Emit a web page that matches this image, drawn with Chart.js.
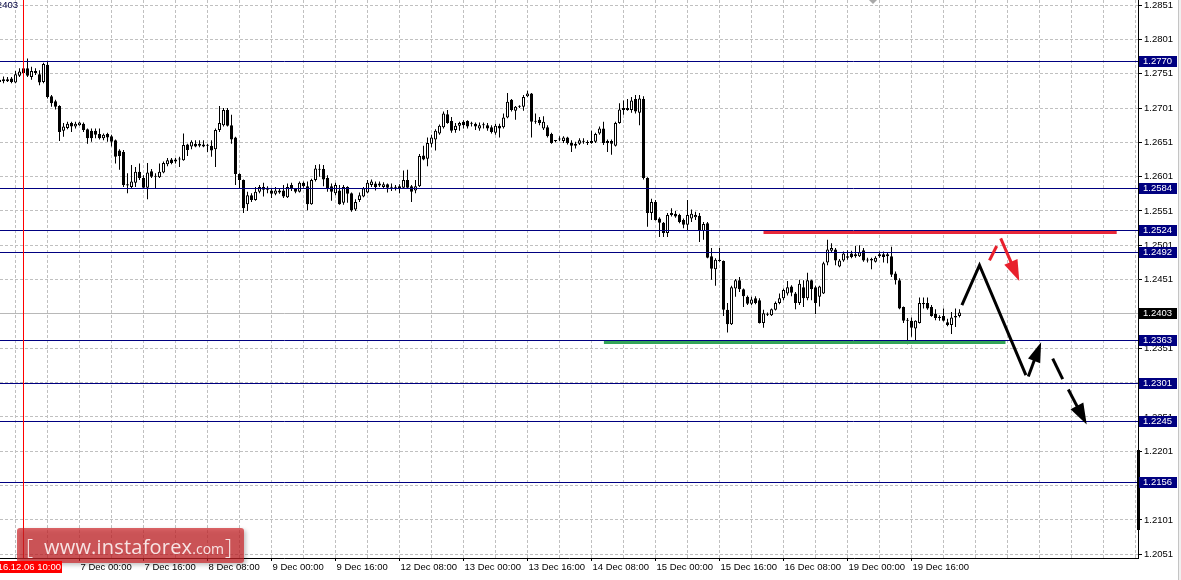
<!DOCTYPE html>
<html><head><meta charset="utf-8">
<script src="https://cdn.jsdelivr.net/npm/chart.js@4.4.0/dist/chart.umd.min.js"></script>
<style>html,body{margin:0;padding:0;background:#fff;overflow:hidden}canvas{display:block}</style>
</head><body>
<canvas id="c" width="1181" height="580"></canvas>
<script>
// Hourly bars; bar number 0 = 6 Dec 08:00, first visible bar is number FIRST_BAR
const FIRST_BAR = -4;
const opens = [
1.2739,1.2743,1.2740,1.2744,1.2738,1.2748,1.2752,1.2759,1.2746,1.2755,
1.2750,1.2739,1.2764,1.2718,1.2711,1.2704,1.2668,1.2672,1.2679,1.2674,
1.2676,1.2678,1.2670,1.2668,1.2668,1.2663,1.2657,1.2663,1.2660,1.2654,
1.2639,1.2637,1.2588,1.2586,1.2592,1.2608,1.2599,1.2585,1.2609,1.2601,
1.2600,1.2607,1.2619,1.2626,1.2626,1.2626,1.2625,1.2648,1.2645,1.2649,
1.2646,1.2648,1.2646,1.2646,1.2641,1.2669,1.2676,1.2698,1.2676,1.2658,
1.2605,1.2596,1.2561,1.2574,1.2567,1.2579,1.2586,1.2585,1.2581,1.2576,
1.2581,1.2581,1.2571,1.2589,1.2583,1.2579,1.2592,1.2587,1.2561,1.2596,
1.2612,1.2612,1.2599,1.2587,1.2577,1.2581,1.2563,1.2586,1.2577,1.2553,
1.2567,1.2572,1.2578,1.2589,1.2591,1.2588,1.2586,1.2590,1.2585,1.2585,
1.2587,1.2585,1.2596,1.2587,1.2581,1.2587,1.2632,1.2627,1.2649,1.2655,
1.2664,1.2673,1.2692,1.2682,1.2669,1.2675,1.2681,1.2682,1.2678,1.2678,
1.2671,1.2676,1.2676,1.2673,1.2665,1.2675,1.2673,1.2687,1.2713,1.2697,
1.2703,1.2703,1.2718,1.2722,1.2681,1.2684,1.2671,1.2673,1.2663,1.2653,
1.2655,1.2653,1.2658,1.2650,1.2646,1.2649,1.2652,1.2650,1.2650,1.2652,
1.2664,1.2671,1.2653,1.2653,1.2646,1.2679,1.2698,1.2698,1.2698,1.2714,
1.2694,1.2714,1.2599,1.2548,1.2564,1.2540,1.2534,1.2519,1.2545,1.2547,
1.2545,1.2538,1.2531,1.2540,1.2542,1.2544,1.2522,1.2533,1.2485,1.2466,
1.2478,1.2478,1.2407,1.2386,1.2438,1.2450,1.2437,1.2426,1.2416,1.2424,
1.2421,1.2388,1.2401,1.2399,1.2407,1.2417,1.2424,1.2431,1.2441,1.2431,
1.2417,1.2440,1.2424,1.2450,1.2440,1.2426,1.2431,1.2476,1.2493,1.2495,
1.2470,1.2479,1.2483,1.2489,1.2485,1.2485,1.2494,1.2480,1.2481,1.2477,
1.2485,1.2488,1.2485,1.2485,1.2460,1.2450,1.2411,1.2392,1.2391,1.2380,
1.2388,1.2415,1.2417,1.2411,1.2401,1.2397,1.2398,1.2389,1.2385,1.2396,1.2398];
const highs = [
1.2745,1.2747,1.2746,1.2746,1.2755,1.2759,1.2761,1.2773,1.2761,1.2759,
1.2756,1.2767,1.2768,1.2720,1.2713,1.2705,1.2679,1.2681,1.2681,1.2681,
1.2681,1.2680,1.2671,1.2671,1.2671,1.2671,1.2664,1.2665,1.2662,1.2655,
1.2641,1.2640,1.2606,1.2618,1.2615,1.2620,1.2603,1.2621,1.2612,1.2606,
1.2620,1.2623,1.2628,1.2628,1.2628,1.2630,1.2664,1.2649,1.2654,1.2654,
1.2654,1.2654,1.2649,1.2654,1.2671,1.2704,1.2701,1.2701,1.2691,1.2659,
1.2606,1.2597,1.2579,1.2577,1.2586,1.2589,1.2592,1.2587,1.2584,1.2586,
1.2583,1.2589,1.2591,1.2592,1.2584,1.2594,1.2594,1.2594,1.2598,1.2618,
1.2619,1.2618,1.2603,1.2591,1.2592,1.2589,1.2589,1.2587,1.2578,1.2568,
1.2578,1.2586,1.2596,1.2597,1.2594,1.2594,1.2593,1.2591,1.2591,1.2589,
1.2590,1.2610,1.2611,1.2589,1.2596,1.2634,1.2646,1.2658,1.2662,1.2670,
1.2677,1.2696,1.2698,1.2688,1.2679,1.2681,1.2683,1.2683,1.2681,1.2680,
1.2680,1.2680,1.2679,1.2676,1.2678,1.2678,1.2693,1.2723,1.2714,1.2704,
1.2705,1.2720,1.2726,1.2723,1.2693,1.2688,1.2689,1.2676,1.2665,1.2654,
1.2660,1.2660,1.2659,1.2654,1.2652,1.2657,1.2657,1.2654,1.2668,1.2665,
1.2674,1.2681,1.2655,1.2655,1.2681,1.2708,1.2712,1.2714,1.2717,1.2720,
1.2720,1.2718,1.2600,1.2569,1.2567,1.2542,1.2535,1.2548,1.2555,1.2551,
1.2547,1.2540,1.2567,1.2553,1.2550,1.2548,1.2535,1.2535,1.2497,1.2482,
1.2497,1.2479,1.2417,1.2442,1.2452,1.2455,1.2438,1.2428,1.2426,1.2427,
1.2424,1.2407,1.2403,1.2409,1.2419,1.2431,1.2438,1.2449,1.2443,1.2433,
1.2451,1.2450,1.2461,1.2451,1.2442,1.2442,1.2477,1.2509,1.2504,1.2497,
1.2481,1.2492,1.2494,1.2493,1.2500,1.2501,1.2497,1.2483,1.2483,1.2485,
1.2492,1.2492,1.2490,1.2499,1.2463,1.2453,1.2412,1.2395,1.2396,1.2392,
1.2425,1.2425,1.2425,1.2414,1.2408,1.2399,1.2409,1.2394,1.2404,1.2409,1.2408];
const lows = [
1.2734,1.2737,1.2739,1.2737,1.2737,1.2746,1.2749,1.2746,1.2742,1.2749,
1.2734,1.2737,1.2715,1.2703,1.2699,1.2653,1.2659,1.2670,1.2666,1.2671,
1.2675,1.2666,1.2649,1.2652,1.2657,1.2655,1.2654,1.2652,1.2645,1.2620,
1.2611,1.2586,1.2577,1.2584,1.2586,1.2596,1.2584,1.2568,1.2599,1.2584,
1.2599,1.2606,1.2616,1.2619,1.2620,1.2615,1.2624,1.2631,1.2641,1.2644,
1.2644,1.2644,1.2637,1.2630,1.2615,1.2666,1.2674,1.2674,1.2649,1.2589,
1.2583,1.2548,1.2551,1.2564,1.2566,1.2577,1.2572,1.2577,1.2570,1.2574,
1.2576,1.2570,1.2570,1.2580,1.2577,1.2578,1.2585,1.2552,1.2560,1.2594,
1.2601,1.2587,1.2579,1.2566,1.2574,1.2560,1.2560,1.2563,1.2550,1.2551,
1.2564,1.2571,1.2577,1.2586,1.2581,1.2586,1.2584,1.2578,1.2580,1.2581,
1.2577,1.2584,1.2584,1.2564,1.2577,1.2586,1.2625,1.2616,1.2644,1.2639,
1.2662,1.2671,1.2678,1.2665,1.2665,1.2668,1.2671,1.2671,1.2674,1.2669,
1.2668,1.2671,1.2668,1.2664,1.2662,1.2658,1.2671,1.2686,1.2696,1.2684,
1.2701,1.2697,1.2717,1.2658,1.2678,1.2676,1.2669,1.2658,1.2649,1.2651,
1.2653,1.2650,1.2648,1.2637,1.2642,1.2647,1.2649,1.2647,1.2649,1.2650,
1.2662,1.2647,1.2637,1.2633,1.2645,1.2678,1.2691,1.2697,1.2694,1.2693,
1.2676,1.2597,1.2528,1.2538,1.2537,1.2513,1.2513,1.2513,1.2543,1.2541,
1.2533,1.2526,1.2523,1.2535,1.2538,1.2506,1.2509,1.2482,1.2451,1.2442,
1.2477,1.2398,1.2374,1.2385,1.2426,1.2433,1.2411,1.2414,1.2414,1.2415,
1.2387,1.2381,1.2398,1.2398,1.2406,1.2415,1.2421,1.2428,1.2427,1.2408,
1.2414,1.2411,1.2421,1.2421,1.2401,1.2412,1.2430,1.2472,1.2490,1.2472,
1.2469,1.2477,1.2480,1.2482,1.2483,1.2484,1.2477,1.2476,1.2466,1.2476,
1.2483,1.2476,1.2475,1.2455,1.2444,1.2408,1.2388,1.2357,1.2368,1.2360,
1.2387,1.2409,1.2407,1.2397,1.2392,1.2391,1.2390,1.2383,1.2372,1.2382,1.2396];
const closes = [
1.2742,1.2740,1.2743,1.2739,1.2750,1.2754,1.2759,1.2748,1.2755,1.2752,
1.2738,1.2765,1.2717,1.2708,1.2703,1.2666,1.2674,1.2678,1.2674,1.2678,
1.2680,1.2669,1.2657,1.2657,1.2662,1.2657,1.2662,1.2658,1.2652,1.2630,
1.2631,1.2589,1.2590,1.2594,1.2608,1.2599,1.2585,1.2607,1.2601,1.2602,
1.2608,1.2621,1.2625,1.2621,1.2623,1.2627,1.2647,1.2640,1.2652,1.2645,
1.2649,1.2645,1.2646,1.2639,1.2669,1.2679,1.2698,1.2675,1.2655,1.2605,
1.2596,1.2555,1.2574,1.2567,1.2579,1.2586,1.2582,1.2582,1.2576,1.2581,
1.2578,1.2572,1.2586,1.2584,1.2579,1.2592,1.2587,1.2561,1.2596,1.2613,
1.2611,1.2597,1.2584,1.2579,1.2589,1.2561,1.2586,1.2576,1.2552,1.2564,
1.2574,1.2584,1.2592,1.2594,1.2586,1.2591,1.2590,1.2585,1.2585,1.2585,
1.2584,1.2596,1.2585,1.2579,1.2587,1.2631,1.2626,1.2650,1.2658,1.2668,
1.2675,1.2693,1.2679,1.2668,1.2675,1.2679,1.2676,1.2674,1.2678,1.2674,
1.2676,1.2676,1.2671,1.2666,1.2675,1.2671,1.2687,1.2710,1.2698,1.2703,
1.2703,1.2717,1.2722,1.2681,1.2681,1.2679,1.2681,1.2660,1.2650,1.2653,
1.2656,1.2658,1.2650,1.2646,1.2649,1.2654,1.2653,1.2650,1.2653,1.2663,
1.2671,1.2650,1.2650,1.2649,1.2679,1.2699,1.2701,1.2701,1.2712,1.2696,
1.2715,1.2599,1.2548,1.2564,1.2538,1.2534,1.2519,1.2545,1.2548,1.2543,
1.2535,1.2531,1.2545,1.2547,1.2545,1.2523,1.2532,1.2483,1.2467,1.2480,
1.2480,1.2407,1.2386,1.2440,1.2450,1.2437,1.2427,1.2416,1.2422,1.2417,
1.2388,1.2402,1.2400,1.2408,1.2417,1.2424,1.2436,1.2440,1.2432,1.2417,
1.2445,1.2424,1.2450,1.2437,1.2417,1.2441,1.2475,1.2495,1.2497,1.2479,
1.2479,1.2489,1.2485,1.2484,1.2488,1.2491,1.2479,1.2479,1.2479,1.2483,
1.2488,1.2484,1.2488,1.2458,1.2450,1.2409,1.2391,1.2391,1.2381,1.2391,
1.2417,1.2417,1.2409,1.2398,1.2395,1.2395,1.2391,1.2385,1.2396,1.2398,1.2403];

// time axis: labelled bar numbers and their texts
const xTickBars = [16,32,48,64,80,96,112,128,144,160,176,192,208,224];
const xTickLabels = ['7 Dec 00:00','7 Dec 16:00','8 Dec 08:00','9 Dec 00:00','9 Dec 16:00',
  '12 Dec 08:00','13 Dec 00:00','13 Dec 16:00','14 Dec 08:00','15 Dec 00:00',
  '15 Dec 16:00','16 Dec 08:00','19 Dec 00:00','19 Dec 16:00'];
const yTickValues = [1.2051,1.2101,1.2151,1.2201,1.2251,1.2301,1.2351,1.2401,1.2451,
  1.2501,1.2551,1.2601,1.2651,1.2701,1.2751,1.2801,1.2851];

// horizontal levels and markers
const levelPrices = [1.2770,1.2584,1.2524,1.2492,1.2363,1.2301,1.2245,1.2156];
const bidPrice = 1.2403;
const markerBar = 2;
const markerLabel = '2016.12.06 10:00';
const resistanceZone = [187, 275.3, 1.2524];   // from bar, to bar, price
const supportZone = [147.1, 247.5, 1.2363];
// forecast drawing, points as [bar, price]
const forecastPath = [[236.6,1.2414],[241.0,1.2472],[252.6,1.2312]];
const reboundArrow = [[253.2,1.2310],[256.4,1.2360]];
const dropDash = [[259.3,1.2336],[261.8,1.2306]];
const dropArrow = [[263.2,1.2291],[267.8,1.2240]];
const redDash = [[243.5,1.2479],[245.3,1.2500]];
const redArrow = [[246.3,1.2511],[250.95,1.2449]];

const bars = opens.map((_, i) => i + FIRST_BAR);
const bodyData = bars.map((b, i) => ({x: b, y: [opens[i], closes[i]]}));
const wickData = bars.map((b, i) => ({x: b, y: [lows[i], highs[i]]}));
const bodyColors = opens.map((o, i) => closes[i] >= o ? '#ffffff' : '#000000');

const FONT = 'Liberation Sans';
const NAVY = '#000080';

const overlay = {
  id: 'overlay',
  beforeDraw(chart) {
    const c = chart.ctx; c.save(); c.fillStyle = '#fff'; c.fillRect(0, 0, chart.width, chart.height); c.restore();
  },
  beforeDatasetsDraw(chart) {
    const {ctx, chartArea: a, scales: {y}} = chart;
    ctx.save();
    ctx.strokeStyle = '#b8b8b8'; ctx.lineWidth = 1;
    const py = Math.round(y.getPixelForValue(bidPrice)) + 0.5;
    ctx.beginPath(); ctx.moveTo(a.left, py); ctx.lineTo(a.right, py); ctx.stroke();
    ctx.restore();
  },
  afterDatasetsDraw(chart) {
    const {ctx, chartArea: a, scales: {x, y}} = chart;
    const P = p => [x.getPixelForValue(p[0]), y.getPixelForValue(p[1])];
    ctx.save();
    ctx.beginPath(); ctx.rect(a.left, a.top, a.right - a.left, a.bottom - a.top); ctx.clip();
    ctx.strokeStyle = NAVY; ctx.lineWidth = 1;
    levelPrices.forEach(p => {
      const py = Math.round(y.getPixelForValue(p)) + 0.5;
      ctx.beginPath(); ctx.moveTo(a.left, py); ctx.lineTo(a.right, py); ctx.stroke();
    });
    ctx.strokeStyle = '#ff0000';
    const vx = Math.floor(x.getPixelForValue(markerBar)) + 0.5;
    ctx.beginPath(); ctx.moveTo(vx, a.top); ctx.lineTo(vx, a.bottom); ctx.stroke();
    const zone = (z, col) => {
      const py = Math.round(y.getPixelForValue(z[2])) + 2.5;
      ctx.strokeStyle = col; ctx.lineWidth = 3;
      ctx.beginPath(); ctx.moveTo(x.getPixelForValue(z[0]), py); ctx.lineTo(x.getPixelForValue(z[1]), py); ctx.stroke();
    };
    zone(resistanceZone, '#e8283a');
    zone(supportZone, '#33a457');
    ctx.lineJoin = 'miter'; ctx.lineCap = 'butt';
    const line = (pts, col) => {
      ctx.strokeStyle = col; ctx.lineWidth = 3; ctx.beginPath();
      pts.forEach((p, i) => { const [u, v] = P(p); i ? ctx.lineTo(u, v) : ctx.moveTo(u, v); });
      ctx.stroke();
    };
    const arrow = (pts, col, len, half) => {
      const [x0, y0] = P(pts[0]), [x1, y1] = P(pts[1]);
      const dx = x1 - x0, dy = y1 - y0, L = Math.hypot(dx, dy), ux = dx / L, uy = dy / L;
      const bx = x1 - ux * len, by = y1 - uy * len;
      ctx.strokeStyle = col; ctx.fillStyle = col; ctx.lineWidth = 3;
      ctx.beginPath(); ctx.moveTo(x0, y0); ctx.lineTo(bx + ux * 3, by + uy * 3); ctx.stroke();
      ctx.beginPath(); ctx.moveTo(x1, y1);
      ctx.lineTo(bx - uy * half, by + ux * half); ctx.lineTo(bx + uy * half, by - ux * half);
      ctx.closePath(); ctx.fill();
    };
    line(forecastPath, '#000');
    arrow(reboundArrow, '#000', 20, 6.5);
    line(dropDash, '#000');
    arrow(dropArrow, '#000', 21, 7.2);
    line(redDash, '#e8202c');
    arrow(redArrow, '#e8202c', 21, 7.2);
    ctx.restore();
  },
  afterDraw(chart) {
    const {ctx, chartArea: a, scales: {y}} = chart;
    ctx.save();
    ctx.fillStyle = '#f0f0f0'; ctx.fillRect(1179, 0, 2, 580);
    ctx.fillStyle = '#c4c4c4'; ctx.fillRect(1178, 0, 1, 580);
    ctx.fillStyle = '#000'; ctx.fillRect(a.right - 1, 450, 3, 80);
    ctx.fillStyle = '#a8a8a8';
    ctx.beginPath(); ctx.moveTo(869, 0); ctx.lineTo(877, 0); ctx.lineTo(873, 4); ctx.closePath(); ctx.fill();
    ctx.font = '9.5px "' + FONT + '"'; ctx.textBaseline = 'middle'; ctx.textAlign = 'left';
    const tag = (p, bg) => {
      const py = Math.round(y.getPixelForValue(p));
      ctx.fillStyle = bg; ctx.fillRect(a.right + 1, py - 5, 38, 11);
      ctx.fillStyle = '#fff'; ctx.fillText(p.toFixed(4), a.right + 5, py + 0.5);
    };
    levelPrices.forEach(p => tag(p, NAVY));
    tag(bidPrice, '#000');
    ctx.fillStyle = '#000040'; ctx.textAlign = 'right';
    ctx.fillText(bidPrice.toFixed(4), 18, 5);
    // watermark
    ctx.save();
    ctx.shadowColor = 'rgba(0,0,0,0.35)'; ctx.shadowBlur = 4; ctx.shadowOffsetX = 2; ctx.shadowOffsetY = 2;
    ctx.fillStyle = 'rgba(205,35,40,0.7)';
    ctx.beginPath(); ctx.roundRect(17, 528, 227, 35, 3); ctx.fill();
    ctx.restore();
    ctx.fillStyle = '#f7e4e4'; ctx.textAlign = 'left'; ctx.textBaseline = 'alphabetic';
    ctx.font = '300 22px "Open Sans"';
    ctx.fillText('[', 26, 555);
    ctx.font = '20px "Open Sans"';
    ctx.letterSpacing = '0.2px';
    ctx.fillText('www.instaforex', 44, 554);
    const w1 = ctx.measureText('www.instaforex').width;
    ctx.font = '14px "Open Sans"'; ctx.letterSpacing = '0px';
    ctx.fillText('.com', 44 + w1, 554);
    ctx.font = '300 22px "Open Sans"';
    ctx.fillText(']', 225, 555);
    ctx.fillStyle = '#ff0000'; ctx.fillRect(0, 561, 62, 12);
    ctx.save(); ctx.beginPath(); ctx.rect(0, 561, 62, 12); ctx.clip();
    ctx.fillStyle = '#fff'; ctx.font = '9.5px "' + FONT + '"'; ctx.textAlign = 'right'; ctx.textBaseline = 'middle';
    ctx.fillText(markerLabel, 61, 567);
    ctx.restore();
    ctx.restore();
  }
};

new Chart(document.getElementById('c'), {
  type: 'bar',
  data: {datasets: [
    {label: 'body', data: bodyData, grouped: false, order: 0, barThickness: 3, borderWidth: 1,
     borderColor: '#000', borderSkipped: false, backgroundColor: bodyColors, minBarLength: 1, inflateAmount: 0},
    {label: 'wick', data: wickData, grouped: false, order: 1, barThickness: 1, borderWidth: 0,
     backgroundColor: '#000', inflateAmount: 0}
  ]},
  options: {
    responsive: false, animation: false, devicePixelRatio: 1, events: [],
    layout: {padding: 0},
    plugins: {legend: {display: false}, tooltip: {enabled: false}},
    scales: {
      x: {
        type: 'linear', min: -3.875, max: 280.625, offset: false,
        afterBuildTicks: s => { const t = []; for (let v = 0; v <= 280; v += 8) t.push({value: v}); s.ticks = t; },
        ticks: {autoSkip: false, maxRotation: 0, minRotation: 0, align: 'start', labelOffset: 1, padding: 1,
          font: {family: FONT, size: 9.5}, color: '#000',
          callback: v => { const k = xTickBars.indexOf(v); return k >= 0 ? xTickLabels[k] : ''; }},
        grid: {offset: false, color: '#c0c0c0', lineWidth: 1, tickLength: 3,
          tickColor: c => (c.tick && xTickBars.includes(c.tick.value)) ? '#000' : 'rgba(0,0,0,0)'},
        border: {display: true, color: '#000', width: 1, dash: [3, 2]},
        afterFit: s => { s.height = 22; s.paddingLeft = 0; s.paddingRight = 0; }
      },
      y: {
        type: 'linear', position: 'right', min: 1.20456, max: 1.28583,
        afterBuildTicks: s => { s.ticks = yTickValues.map(v => ({value: v})); },
        ticks: {autoSkip: false, font: {family: FONT, size: 9.5}, color: '#000', padding: 2,
          callback: v => Number(v).toFixed(4)},
        grid: {color: '#c0c0c0', lineWidth: 1, tickLength: 4, tickColor: '#000'},
        border: {display: true, color: '#000', width: 1, dash: [3, 2]},
        afterFit: s => { s.width = 43; s.paddingTop = 0; s.paddingBottom = 0; }
      }
    }
  },
  plugins: [overlay]
});
</script>
</body></html>
